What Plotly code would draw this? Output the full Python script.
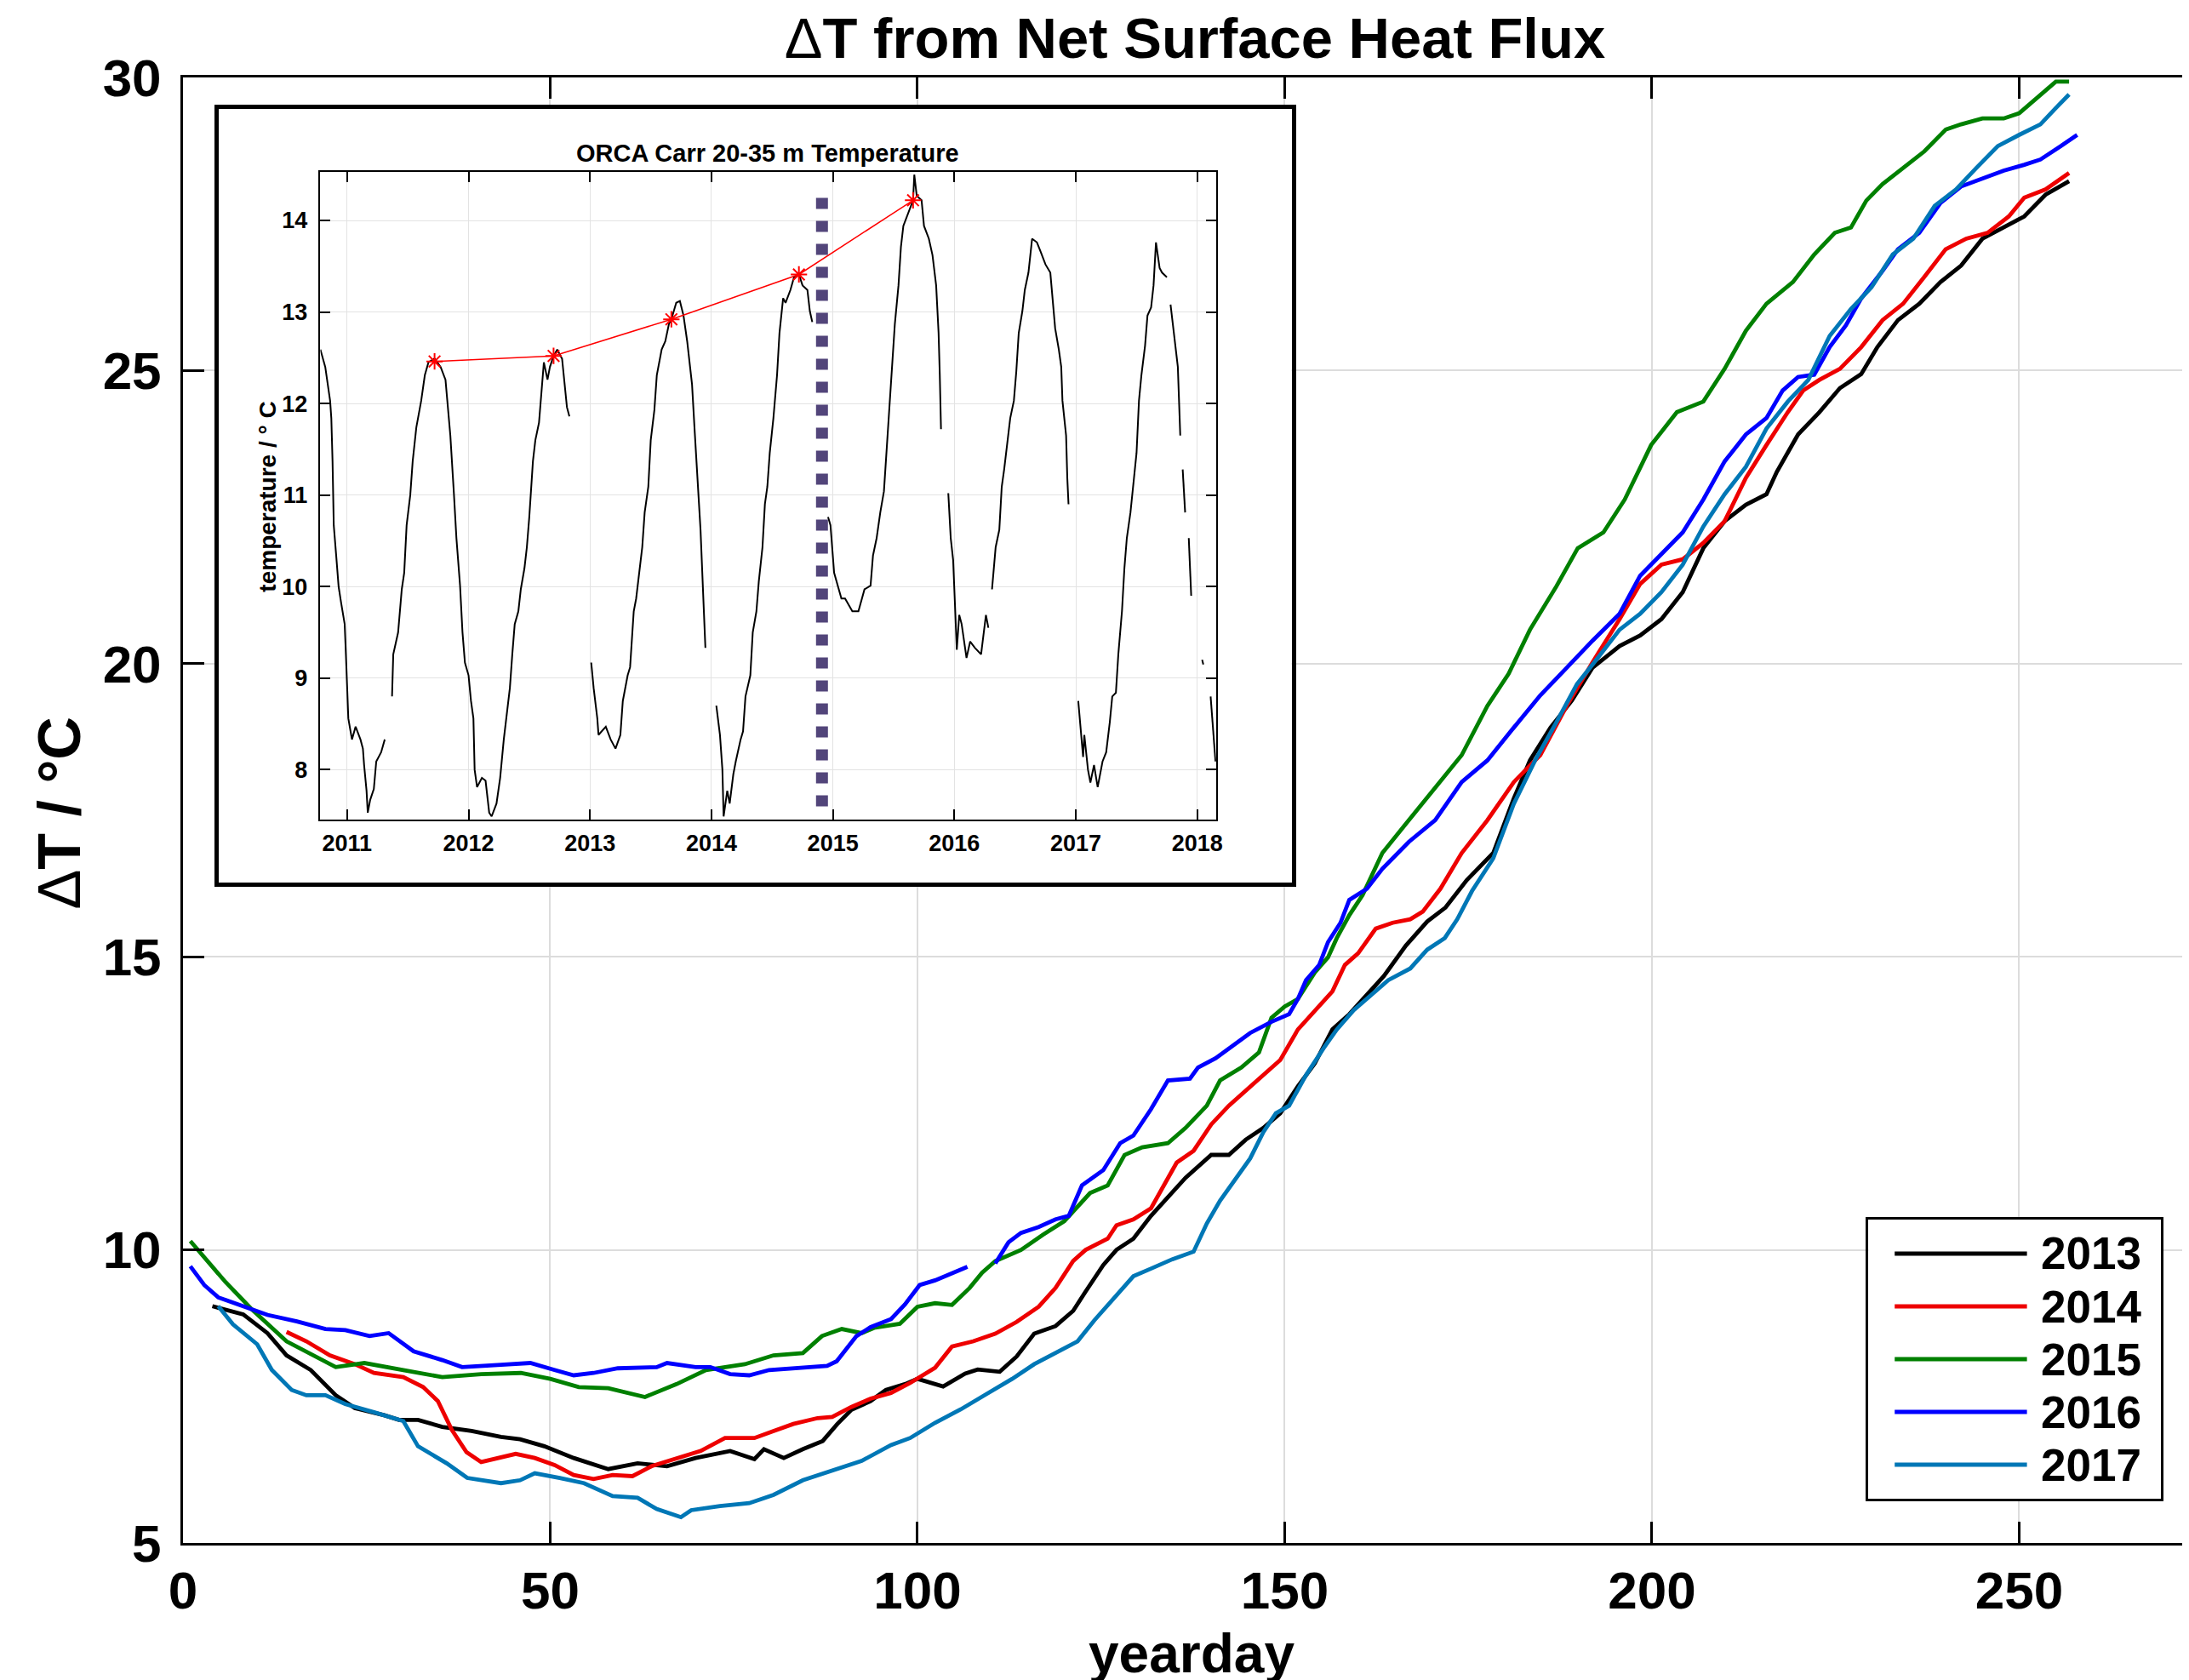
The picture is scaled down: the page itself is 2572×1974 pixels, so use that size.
import plotly.graph_objects as go

FONT = "Liberation Sans, Arial, Helvetica, sans-serif"

# ---------------- main chart data (yearday, delta T) ----------------
years = ["2013", "2014", "2015", "2016", "2017"]
colors = ["#000000", "#ee0000", "#008000", "#0000ff", "#0077b6"]

day_2013 = [4, 8.2, 11.5, 14.1, 17.4, 20.8, 23.4, 27.4, 29.4, 32, 35.3, 39.3, 43.3, 45.9, 49.2, 53.2, 57.9, 61.9,
            65.9, 69.8, 74.5, 77.8, 79.1, 81.8, 84.4, 87.1, 89.1, 91, 93.6, 95.7, 98.3, 100, 103.5, 106.5, 108.2,
            111.2, 113.5, 115.9, 118.8, 121.2, 122.9, 125.3, 127.1, 129.4, 131.8, 134.1, 136.5, 140, 142.4, 144.7,
            147.1, 149.4, 151.8, 154.1, 156.5, 158.8, 161.2, 163.5, 166.5, 169.4, 171.9, 174.8, 178.4, 181.2, 183.4,
            186.2, 189.1, 191.9, 195.6, 198.4, 201.3, 204.2, 207, 209.9, 212.8, 215.6, 217, 219.9, 222.8, 225.6,
            228.5, 230.7, 233.5, 236.4, 239.3, 242.1, 245, 247.9, 250.7, 253.6, 256.8]
dT_2013 = [9.04, 8.9, 8.58, 8.2, 7.95, 7.52, 7.3, 7.18, 7.1, 7.1, 6.98, 6.91, 6.81, 6.77, 6.65, 6.45, 6.26, 6.36,
           6.31, 6.45, 6.57, 6.43, 6.6, 6.45, 6.6, 6.74, 7.03, 7.27, 7.42, 7.61, 7.71, 7.8, 7.67, 7.89, 7.96,
           7.92, 8.18, 8.57, 8.7, 8.96, 9.29, 9.74, 10.0, 10.19, 10.58, 10.91, 11.23, 11.62, 11.62, 11.88,
           12.08, 12.33, 12.79, 13.18, 13.76, 14.02, 14.35, 14.67, 15.19, 15.6, 15.84, 16.31, 16.77, 17.7, 18.35,
           18.91, 19.37, 19.93, 20.3, 20.48, 20.76, 21.22, 21.97, 22.43, 22.71, 22.89, 23.27, 23.91, 24.29, 24.7,
           24.94, 25.4, 25.86, 26.14, 26.51, 26.79, 27.25, 27.44, 27.63, 28.0, 28.23]

day_2014 = [14.1, 16.8, 20, 23.4, 26, 30, 32.7, 34.7, 36.6, 38.6, 40.6, 43.3, 45.3, 47.9, 50.6, 53.2, 55.9, 58.5,
            61.2, 63.8, 67.2, 70.5, 73.8, 77.8, 80.4, 83.1, 86.4, 88.4, 91, 93.6, 96.4, 99, 102.4, 104.7, 107.6,
            110.6, 113.5, 116.5, 118.8, 121.2, 122.9, 125.9, 127.1, 129.4, 131.8, 133.5, 135.3, 137.6, 140, 142.4,
            144.7, 147.1, 149.4, 151.8, 154.1, 156.5, 158.2, 160, 162.4, 164.7, 167.1, 168.8, 171.2, 174.1, 177.6,
            181.2, 184.8, 188.4, 191.9, 195.6, 198.4, 201.3, 204.2, 207, 209.9, 212.8, 215.6, 218.5, 220.6, 222.8,
            225.6, 228.5, 231.4, 234.2, 237.1, 240, 242.8, 245.7, 248.6, 250.7, 253.6, 256.8]
dT_2014 = [8.6, 8.44, 8.2, 8.05, 7.9, 7.83, 7.66, 7.42, 6.93, 6.55, 6.38, 6.47, 6.52, 6.45, 6.33, 6.16, 6.09, 6.16,
           6.14, 6.31, 6.45, 6.57, 6.79, 6.79, 6.91, 7.03, 7.13, 7.15, 7.32, 7.46, 7.56, 7.73, 7.99, 8.35, 8.44,
           8.57, 8.77, 9.03, 9.35, 9.81, 10.0, 10.19, 10.42, 10.52, 10.71, 11.1, 11.49, 11.69, 12.14, 12.46,
           12.72, 12.98, 13.24, 13.76, 14.09, 14.41, 14.86, 15.06, 15.48, 15.58, 15.64, 15.77, 16.16, 16.77, 17.33,
           17.98, 18.44, 19.28, 20.02, 20.76, 21.36, 21.69, 21.78, 22.06, 22.43, 23.17, 23.73, 24.29, 24.66, 24.84,
           25.03, 25.4, 25.86, 26.14, 26.6, 27.07, 27.25, 27.35, 27.63, 27.95, 28.09, 28.37]

day_2015 = [1, 5.8, 9.5, 14.1, 20.8, 24.7, 30, 35.3, 40.6, 46, 50, 53.9, 57.9, 62.9, 67.2, 71.2, 76.5, 80.4, 84.4,
            87, 89.7, 92.4, 94.1, 97.6, 100, 102.4, 104.7, 107.1, 108.8, 110.6, 114.1, 117.1, 120, 123.5, 125.9,
            128.2, 130.6, 134.1, 136.5, 139.4, 141.2, 144.1, 146.5, 148.2, 150, 151.8, 154.1, 155.9, 157.1, 158.8,
            160.6, 163.3, 166.9, 170.5, 174.1, 177.6, 180.5, 183.4, 187, 189.9, 193.4, 196.3, 199.9, 203.4, 207,
            209.9, 212.8, 215.6, 219.2, 222.1, 224.9, 227.1, 229.2, 231.4, 234.2, 237.1, 240, 242.1, 245, 247.9,
            250, 252.2, 255, 256.8]
dT_2015 = [10.15, 9.45, 8.97, 8.44, 8.0, 8.07, 7.95, 7.83, 7.88, 7.9, 7.8, 7.66, 7.64, 7.49, 7.71, 7.95, 8.05, 8.2,
           8.24, 8.53, 8.65, 8.58, 8.67, 8.74, 9.03, 9.09, 9.06, 9.35, 9.61, 9.81, 10.0, 10.26, 10.49, 10.97, 11.1,
           11.62, 11.75, 11.82, 12.08, 12.46, 12.89, 13.11, 13.37, 13.96, 14.15, 14.28, 14.73, 14.99, 15.32, 15.71,
           16.05, 16.77, 17.33, 17.88, 18.44, 19.28, 19.83, 20.58, 21.32, 21.97, 22.24, 22.8, 23.73, 24.29, 24.47,
           25.03, 25.68, 26.14, 26.51, 26.98, 27.35, 27.44, 27.9, 28.18, 28.46, 28.74, 29.11, 29.2, 29.3, 29.3,
           29.39, 29.62, 29.93, 29.93]

day_2016 = [1, 2.9, 4.8, 8.8, 11.5, 15.5, 19.4, 22.1, 25.4, 28, 31.4, 35.3, 38, 43.3, 47.3, 50.6, 53.2, 55.9, 59.2,
            64.5, 65.9, 69.8, 71.8, 74.5, 77.1, 79.8, 84.4, 87.7, 89, 91.7, 93.6, 96.4, 98.3, 100.3, 102.4, 104.7,
            106.8, None, 110.6, 112.4, 114.1, 116.5, 118.8, 120.6, 122.4, 125.3, 127.6, 129.4, 131.8, 134.1, 137.1,
            138.2, 140.6, 143, 145.3, 148.2, 150.6, 151.8, 152.9, 154.7, 155.9, 157.6, 158.8, 161.2, 163.3, 166.9,
            170.5, 174.1, 177.6, 181.2, 184.8, 188.4, 191.9, 195.6, 198.4, 201.3, 204.2, 207, 209.9, 212.8, 215.6,
            217.8, 219.9, 222.1, 224.2, 226.4, 228.5, 231.4, 233.5, 236.4, 239.3, 242.1, 245, 247.9, 250.7, 252.9,
            255.7, 257.9]
dT_2016 = [9.72, 9.4, 9.19, 9.02, 8.89, 8.78, 8.65, 8.63, 8.53, 8.58, 8.27, 8.12, 8.0, 8.04, 8.07, 7.95, 7.86, 7.9,
           7.98, 8.0, 8.07, 8.0, 8.0, 7.88, 7.86, 7.95, 8.0, 8.02, 8.1, 8.53, 8.68, 8.82, 9.07, 9.4, 9.48, 9.61,
           9.71, None, 9.77, 10.13, 10.29, 10.39, 10.52, 10.58, 11.1, 11.36, 11.82, 11.95, 12.4, 12.89, 12.92,
           13.11, 13.27, 13.5, 13.7, 13.89, 14.02, 14.28, 14.6, 14.86, 15.25, 15.58, 15.97, 16.16, 16.5, 16.96,
           17.33, 17.98, 18.35, 18.91, 19.46, 19.93, 20.39, 20.85, 21.5, 21.87, 22.24, 22.8, 23.45, 23.91, 24.19,
           24.66, 24.89, 24.93, 25.4, 25.77, 26.23, 26.7, 27.07, 27.35, 27.86, 28.14, 28.27, 28.41, 28.51, 28.6,
           28.83, 29.02]

day_2017 = [4.8, 6.8, 10.1, 12.1, 14.8, 16.8, 19.4, 22.1, 26, 30, 32, 34, 35.9, 38.7, 43.3, 45.9, 47.9, 51.3, 54.6,
            58.5, 61.9, 64.5, 67.8, 69.2, 73.1, 77.1, 80.4, 84.4, 88.4, 92.4, 96.4, 99, 102.4, 105.9, 109.4, 112.9,
            115.9, 118.8, 121.8, 124.1, 127.1, 129.4, 131.8, 134.7, 137.6, 139.4, 141.2, 143.5, 145.3, 147.1, 148.8,
            150.6, 152.9, 155.3, 157.1, 159.4, 161.8, 164.1, 167.1, 169.4, 171.8, 173.5, 175.5, 178.4, 181.2, 184.1,
            187, 189.8, 192.7, 195.6, 198.4, 201.3, 204.2, 207, 209.9, 212.8, 215.6, 218.5, 221.3, 224.2, 227.1,
            229.9, 232.8, 235.6, 238.5, 241.4, 244.2, 247.1, 250, 252.9, 255, 256.8]
dT_2017 = [9.04, 8.73, 8.39, 7.95, 7.61, 7.52, 7.52, 7.37, 7.23, 7.08, 6.65, 6.5, 6.36, 6.11, 6.02, 6.07, 6.19, 6.11,
           6.02, 5.8, 5.77, 5.58, 5.44, 5.56, 5.63, 5.68, 5.82, 6.07, 6.23, 6.4, 6.67, 6.79, 7.05, 7.28, 7.54, 7.8,
           8.05, 8.25, 8.44, 8.8, 9.22, 9.55, 9.68, 9.84, 9.97, 10.45, 10.84, 11.23, 11.56, 12.01, 12.33, 12.46,
           12.98, 13.44, 13.76, 14.09, 14.35, 14.6, 14.8, 15.12, 15.32, 15.64, 16.12, 16.68, 17.61, 18.35, 19.0,
           19.65, 20.11, 20.58, 20.85, 21.22, 21.69, 22.34, 22.89, 23.36, 24.01, 24.47, 24.84, 25.59, 26.05, 26.42,
           26.98, 27.25, 27.81, 28.09, 28.46, 28.83, 29.02, 29.2, 29.48, 29.71]

main_x_ticks = [0, 50, 100, 150, 200, 250]
main_y_ticks = [5, 10, 15, 20, 25, 30]

# ---------------- inset data (decimal year, temperature) ----------------
inset_year = [2010.78, 2010.82, 2010.86, 2010.87, 2010.88, 2010.89, 2010.91, 2010.93, 2010.95, 2010.98, 2010.99,
              2011.00, 2011.01, 2011.04, 2011.07, 2011.11, 2011.13, 2011.14, 2011.16, 2011.17, 2011.19, 2011.22,
              2011.24, 2011.28, 2011.31, None,
              2011.37, 2011.38, 2011.42, 2011.45, 2011.47, 2011.49, 2011.52, 2011.54, 2011.57, 2011.59, 2011.61,
              2011.64, 2011.67, 2011.72, 2011.77, 2011.81, 2011.83, 2011.85, 2011.88, 2011.90, 2011.93, 2011.95,
              2011.97, 2012.00, 2012.02, 2012.04, 2012.05, 2012.07, 2012.11, 2012.14, 2012.17, 2012.19, 2012.23,
              2012.26, 2012.29, 2012.31, 2012.34, 2012.36, 2012.38, 2012.41, 2012.43, 2012.46, 2012.48, 2012.50,
              2012.53, 2012.55, 2012.58, 2012.60, 2012.62, 2012.65, 2012.67, 2012.70, 2012.73, 2012.77, 2012.79,
              2012.81, 2012.83, None,
              2013.01, 2013.03, 2013.06, 2013.07, 2013.13, 2013.17, 2013.21, 2013.25, 2013.27, 2013.31, 2013.33,
              2013.36, 2013.38, 2013.41, 2013.43, 2013.45, 2013.48, 2013.50, 2013.53, 2013.55, 2013.59, 2013.62,
              2013.65, 2013.67, 2013.71, 2013.74, 2013.77, 2013.80, 2013.84, 2013.86, 2013.89, 2013.91, 2013.93,
              2013.95, None,
              2014.04, 2014.07, 2014.09, 2014.10, 2014.13, 2014.15, 2014.18, 2014.20, 2014.24, 2014.26, 2014.28,
              2014.32, 2014.34, 2014.37, 2014.39, 2014.42, 2014.44, 2014.46, 2014.48, 2014.51, 2014.54, 2014.56,
              2014.59, 2014.61, 2014.65, 2014.68, 2014.72, 2014.75, 2014.79, 2014.81, 2014.83, None,
              2014.96, 2014.98, 2015.01, 2015.04, 2015.07, 2015.10, 2015.16, 2015.21, 2015.26, 2015.31, 2015.33,
              2015.36, 2015.39, 2015.42, 2015.44, 2015.46, 2015.49, 2015.51, 2015.54, 2015.56, 2015.58, 2015.62,
              2015.66, 2015.67, 2015.69, 2015.73, 2015.75, 2015.79, 2015.82, 2015.85, 2015.87, 2015.88, 2015.89, None,
              2015.95, 2015.97, 2015.99, 2016.00, 2016.02, 2016.04, 2016.06, 2016.10, 2016.13, 2016.17, 2016.22,
              2016.26, 2016.28, None,
              2016.31, 2016.34, 2016.37, 2016.39, 2016.41, 2016.44, 2016.46, 2016.49, 2016.51, 2016.53, 2016.56,
              2016.58, 2016.61, 2016.64, 2016.68, 2016.71, 2016.75, 2016.79, 2016.81, 2016.83, 2016.86, 2016.88,
              2016.89, 2016.92, 2016.93, 2016.94, None,
              2017.02, 2017.04, 2017.06, 2017.07, 2017.10, 2017.12, 2017.15, 2017.18, 2017.22, 2017.25, 2017.28,
              2017.30, 2017.33, 2017.35, 2017.38, 2017.40, 2017.42, 2017.45, 2017.47, 2017.50, 2017.52, 2017.54,
              2017.57, 2017.59, 2017.62, 2017.64, 2017.66, 2017.69, 2017.71, 2017.75, None,
              2017.78, 2017.80, 2017.82, 2017.84, 2017.86, None,
              2017.88, 2017.89, 2017.90, None,
              2017.93, 2017.94, 2017.95, None,
              2018.04, 2018.05, None,
              2018.11, 2018.13, 2018.15]
inset_temp = [12.59, 12.40, 12.03, 11.84, 11.37, 10.67, 10.34, 10.00, 9.83, 9.59, 9.26,
              8.84, 8.56, 8.33, 8.47, 8.33, 8.23, 8.05, 7.77, 7.53, 7.67, 7.79,
              8.09, 8.19, 8.33, None,
              8.80, 9.26, 9.50, 9.97, 10.15, 10.67, 11.00, 11.37, 11.74, 11.88, 12.03,
              12.31, 12.45, 12.49, 12.40, 12.26, 11.93, 11.65, 11.00, 10.53, 10.01, 9.50,
              9.17, 9.03, 8.75, 8.56, 8.00, 7.81, 7.91, 7.88, 7.53, 7.49, 7.63,
              7.91, 8.33, 8.56, 8.89, 9.26, 9.59, 9.73, 9.97, 10.20, 10.43, 10.76,
              11.37, 11.60, 11.79, 12.12, 12.45, 12.26, 12.40, 12.52, 12.59, 12.49, 12.21,
              11.96, 11.86, None,
              9.17, 8.89, 8.56, 8.38, 8.47, 8.33, 8.23, 8.38, 8.75, 9.03, 9.12,
              9.73, 9.87, 10.20, 10.43, 10.81, 11.09, 11.60, 11.93, 12.31, 12.59, 12.68,
              12.87, 12.92, 13.10, 13.12, 12.96, 12.68, 12.21, 11.74, 11.09, 10.62, 9.97,
              9.33, None,
              8.70, 8.38, 8.00, 7.49, 7.77, 7.63, 7.95, 8.09, 8.33, 8.42, 8.80,
              9.03, 9.50, 9.73, 10.06, 10.43, 10.90, 11.09, 11.46, 11.84, 12.31, 12.77,
              13.15, 13.10, 13.24, 13.38, 13.41, 13.29, 13.24, 13.01, 12.89, None,
              10.76, 10.67, 10.15, 10.01, 9.87, 9.87, 9.73, 9.73, 9.97, 10.01, 10.34,
              10.53, 10.81, 11.04, 11.46, 11.84, 12.54, 12.87, 13.29, 13.71, 13.94, 14.08,
              14.22, 14.50, 14.27, 14.22, 13.94, 13.80, 13.62, 13.29, 12.77, 12.31, 11.72, None,
              11.02, 10.53, 10.29, 9.97, 9.31, 9.69, 9.59, 9.22, 9.40, 9.33, 9.26,
              9.69, 9.55, None,
              9.97, 10.43, 10.62, 11.09, 11.28, 11.65, 11.84, 12.03, 12.35, 12.77, 13.01,
              13.24, 13.43, 13.80, 13.76, 13.66, 13.52, 13.43, 13.15, 12.82, 12.59, 12.40,
              12.03, 11.65, 11.18, 10.90, None,
              8.75, 8.42, 8.14, 8.38, 8.00, 7.86, 8.05, 7.81, 8.09, 8.19, 8.52,
              8.80, 8.84, 9.26, 9.73, 10.20, 10.53, 10.81, 11.09, 11.46, 12.03, 12.31,
              12.63, 12.96, 13.05, 13.29, 13.76, 13.48, 13.43, 13.38, None,
              13.08, 12.87, 12.63, 12.40, 11.65, None,
              11.28, 11.09, 10.81, None,
              10.53, 10.20, 9.90, None,
              9.20, 9.15, None,
              8.80, 8.42, 8.09]

peak_year = [2011.72, 2012.70, 2013.67, 2014.72, 2015.66]
peak_temp = [12.46, 12.52, 12.92, 13.41, 14.22]

cut_year = 2014.91
cut_temp_span = [7.6, 14.35]

inset_x_ticks = [2011, 2012, 2013, 2014, 2015, 2016, 2017, 2018]
inset_y_ticks = [8, 9, 10, 11, 12, 13, 14]

# ---------------- figure geometry ----------------
W, H = 2572, 1974
L, T, B = 215, 91, 161
PW, PH = W - L, H - T - B


def px_x(px):
    return (px - L) / PW


def px_y(py):
    return (H - B - py) / PH


fig = go.Figure()

# main series
series = [(day_2013, dT_2013), (day_2014, dT_2014), (day_2015, dT_2015), (day_2016, dT_2016), (day_2017, dT_2017)]
for name, col, (dx, dy) in zip(years, colors, series):
    fig.add_trace(go.Scatter(x=dx, y=dy, mode="lines", name=name, connectgaps=False,
                             line=dict(color=col, width=4.8)))

# empty trace so that the inset frame subplot (x2y2) exists
fig.add_trace(go.Scatter(x=[], y=[], xaxis="x2", yaxis="y2", hoverinfo="skip"))

# inset
fig.add_trace(go.Scatter(x=inset_year, y=inset_temp, mode="lines", connectgaps=False,
                         line=dict(color="black", width=2), xaxis="x3", yaxis="y3"))
fig.add_trace(go.Scatter(x=peak_year, y=peak_temp, mode="lines+markers",
                         line=dict(color="red", width=1.5),
                         marker=dict(symbol="asterisk-open", size=16, color="red", line=dict(color="red", width=2)),
                         xaxis="x3", yaxis="y3"))
fig.add_trace(go.Scatter(x=[cut_year, cut_year], y=cut_temp_span, mode="lines",
                         line=dict(color="#52457a", width=14, dash="13px,14px"), xaxis="x3", yaxis="y3"))

# empty trace so that the legend box subplot (x4y4) exists
fig.add_trace(go.Scatter(x=[], y=[], xaxis="x4", yaxis="y4", hoverinfo="skip"))

axis_common = dict(showgrid=True, gridcolor="#dcdcdc", gridwidth=2, showline=True, linecolor="black",
                   linewidth=3, ticks="inside", ticklen=25, tickwidth=2.5, tickcolor="black", zeroline=False,
                   tickfont=dict(size=62, family=FONT, weight="bold", color="black"))
inset_common = dict(showgrid=True, gridcolor="#e3e3e3", gridwidth=1, showline=True, linecolor="black",
                    linewidth=1.5, ticks="inside", ticklen=12, tickwidth=1.5, tickcolor="black", zeroline=False,
                    mirror="ticks", tickfont=dict(size=27, family=FONT, weight="bold", color="black"))
frame_common = dict(range=[0, 1], showgrid=False, zeroline=False, showticklabels=False, ticks="",
                    showline=True, mirror=True, linecolor="black", fixedrange=True)

# legend box (drawn by hand so rows match the reference spacing)
shapes = []
annotations = []
for i, (name, col) in enumerate(zip(years, colors)):
    shapes.append(dict(type="line", xref="x4", yref="y4", x0=0.09, x1=0.542, y0=i, y1=i,
                       line=dict(color=col, width=4.8)))
    annotations.append(dict(text=name, xref="x4", yref="y4", x=0.585, y=i, xanchor="left", yanchor="middle",
                            showarrow=False, font=dict(size=53, family=FONT, weight="bold", color="black")))

annotations += [
    dict(text='<span style="font-weight:normal">\u0394</span>T / \u00b0C', textangle=-90,
         xref="paper", yref="paper", x=px_x(70), y=px_y(955), xanchor="center", yanchor="middle",
         showarrow=False, font=dict(size=70, family=FONT, weight="bold", color="black")),
    dict(text="yearday", xref="paper", yref="paper", x=px_x(1404), y=px_y(1905), xanchor="center",
         yanchor="top", showarrow=False, font=dict(size=64, family=FONT, weight="bold", color="black")),
    dict(text="ORCA Carr 20-35 m Temperature", xref="paper", yref="paper", x=px_x(904), y=px_y(180),
         xanchor="center", yanchor="middle", showarrow=False,
         font=dict(size=29, family=FONT, weight="bold", color="black")),
    dict(text="temperature / \u00b0 C", textangle=-90, xref="paper", yref="paper", x=px_x(314),
         y=px_y(584), xanchor="center", yanchor="middle", showarrow=False,
         font=dict(size=28, family=FONT, weight="bold", color="black")),
]

fig.update_layout(
    width=W, height=H,
    margin=dict(l=L, r=0, t=T, b=B),
    paper_bgcolor="white", plot_bgcolor="white",
    showlegend=False,
    font=dict(family=FONT, color="black", weight="bold"),
    title=dict(text='<span style="font-weight:normal">\u0394</span>T from Net Surface Heat Flux',
               font=dict(size=67, family=FONT, weight="bold", color="black"),
               xref="container", x=1404 / W, xanchor="center",
               yref="container", y=1 - 45 / H, yanchor="middle"),
    xaxis=dict(range=[0, 272.2], tickvals=main_x_ticks, mirror="ticks", ticklabelstandoff=0, **axis_common),
    yaxis=dict(range=[5, 30], tickvals=main_y_ticks, mirror=False, ticklabelstandoff=10, **axis_common),
    # inset frame
    xaxis2=dict(domain=[px_x(257), px_x(1522)], anchor="y2", linewidth=5, **frame_common),
    yaxis2=dict(domain=[px_y(1037), px_y(128)], anchor="x2", linewidth=5, **frame_common),
    # inset axes
    xaxis3=dict(domain=[px_x(377), px_x(1433)], anchor="y3", range=[2010.78, 2018.155],
                tickvals=inset_x_ticks, ticklabelstandoff=3, **inset_common),
    yaxis3=dict(domain=[px_y(963), px_y(202)], anchor="x3", range=[7.455, 14.53],
                tickvals=inset_y_ticks, ticklabelstandoff=8, **inset_common),
    # legend box
    xaxis4=dict(domain=[px_x(2202), px_x(2547)], anchor="y4", linewidth=2.5, **frame_common),
    yaxis4=dict(domain=[px_y(1761), px_y(1433)], anchor="x4", linewidth=2.5,
                **{**frame_common, "range": [4.645, -0.645]}),
    shapes=shapes,
    annotations=annotations,
)

fig.write_html("out.html", config={"displayModeBar": False},
               post_script="document.body.style.margin='0';document.body.style.overflow='hidden';")
